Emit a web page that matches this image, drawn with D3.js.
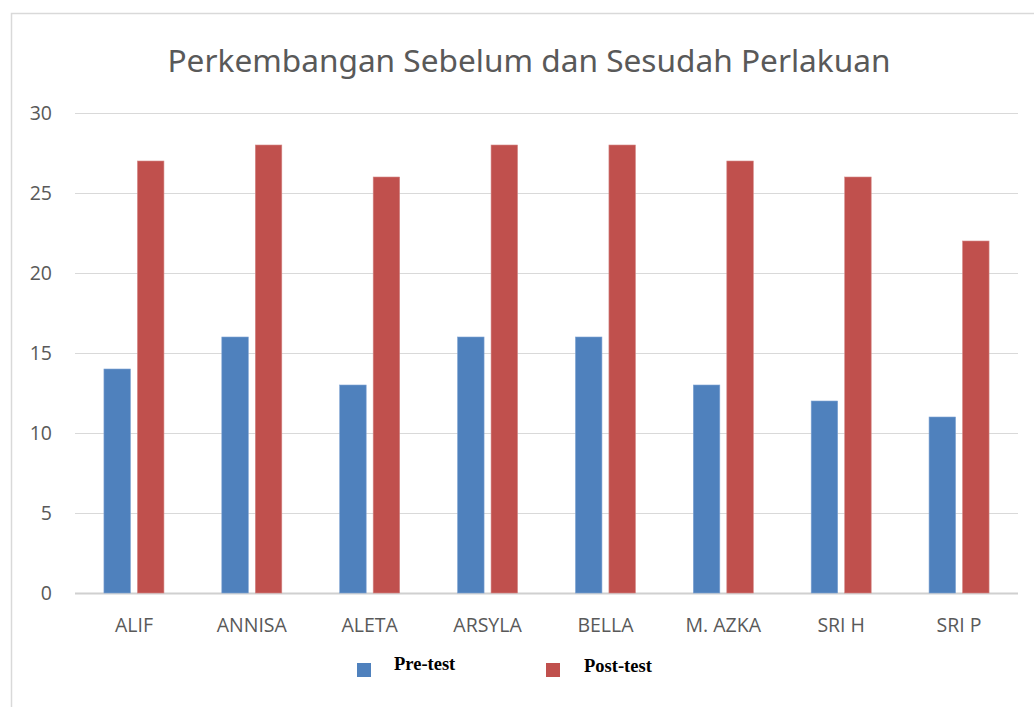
<!DOCTYPE html>
<html>
<head>
<meta charset="utf-8">
<title>Perkembangan Sebelum dan Sesudah Perlakuan</title>
<style>
body { margin: 0; background: #fff; }
svg { display: block; }
</style>
</head>
<body>
<script src="https://cdn.jsdelivr.net/npm/d3@7"></script>
<script>
// data
var names = ["ALIF", "ANNISA", "ALETA", "ARSYLA", "BELLA", "M. AZKA", "SRI H", "SRI P"];
var series = ["Pre-test", "Post-test"];
var preTest = [14, 16, 13, 16, 16, 13, 12, 11];
var postTest = [27, 28, 26, 28, 28, 27, 26, 22];
var yTicks = [0, 5, 10, 15, 20, 25, 30];

var colors = ["#4F81BD", "#C0504D"];
var W = 1034, H = 707;
var margin = {top: 113, right: 16, bottom: 114, left: 75};
var width = W - margin.left - margin.right,
    height = H - margin.top - margin.bottom;

var svg = d3.select("body").append("svg")
  .attr("width", W)
  .attr("height", H);

// chart frame
svg.append("path")
  .attr("d", "M11.5," + H + "V13.5H" + W)
  .attr("fill", "none")
  .attr("stroke", "#d9d9d9")
  .attr("stroke-width", 1.5);

svg.append("text")
  .attr("x", 529)
  .attr("y", 72)
  .attr("text-anchor", "middle")
  .attr("textLength", 723)
  .attr("lengthAdjust", "spacingAndGlyphs")
  .style("font-family", "Noto Sans")
  .style("font-size", "30px")
  .style("fill", "#595959")
  .text("Perkembangan Sebelum dan Sesudah Perlakuan");

var g = svg.append("g")
  .attr("transform", "translate(" + margin.left + "," + margin.top + ")");

var x = d3.scaleBand().domain(names).range([0, width]);
var y = d3.scaleLinear().domain([0, 30]).range([height, 0]);

// gridlines
g.selectAll(".grid").data(yTicks).enter().append("line")
  .attr("x1", 0).attr("x2", width)
  .attr("y1", function(d) { return y(d) + 0.5; })
  .attr("y2", function(d) { return y(d) + 0.5; })
  .attr("stroke", function(d) { return d === 0 ? "#d0d0d0" : "#d9d9d9"; })
  .attr("stroke-width", function(d) { return d === 0 ? 2 : 1.2; });

g.selectAll(".ytick").data(yTicks).enter().append("text")
  .attr("x", -23)
  .attr("y", function(d) { return y(d); })
  .attr("dy", "0.36em")
  .attr("text-anchor", "end")
  .style("font-family", "Open Sans")
  .style("font-size", "19.5px")
  .style("fill", "#595959")
  .text(function(d) { return d; });

g.selectAll(".xtick").data(names).enter().append("text")
  .attr("x", function(d) { return x(d) + x.bandwidth() / 2; })
  .attr("y", 39)
  .attr("transform", "translate(0," + height + ")")
  .attr("text-anchor", "middle")
  .style("font-family", "Open Sans")
  .style("font-size", "19.5px")
  .style("fill", "#595959")
  .text(function(d) { return d; });

var barW = 26.5, gap = 7;
var sub = d3.scaleOrdinal().domain(series)
  .range([-(gap / 2 + barW), gap / 2]);

var values = [preTest, postTest];
series.forEach(function(s, si) {
  g.selectAll(".bar" + si).data(values[si]).enter().append("rect")
    .attr("x", function(d, i) { return x(names[i]) + x.bandwidth() / 2 + sub(s); })
    .attr("width", barW)
    .attr("y", function(d) { return y(d); })
    .attr("height", function(d) { return y(0) - y(d); })
    .attr("fill", colors[si])
    .attr("stroke", si === 0 ? "#7fa3d3" : "#d48886")
    .attr("stroke-width", 0.6);
});

// legend
var legendX = [357, 546], legendTextX = [394, 584], legendTextY = [670, 672];
series.forEach(function(s, i) {
  svg.append("rect")
    .attr("x", legendX[i]).attr("y", 663)
    .attr("width", 14).attr("height", 14)
    .attr("fill", colors[i]);
  svg.append("text")
    .attr("x", legendTextX[i]).attr("y", legendTextY[i])
    .style("font-family", "Liberation Serif")
    .style("font-weight", "bold")
    .style("font-size", "18.5px")
    .style("fill", "#000")
    .text(s);
});
</script>
</body>
</html>
